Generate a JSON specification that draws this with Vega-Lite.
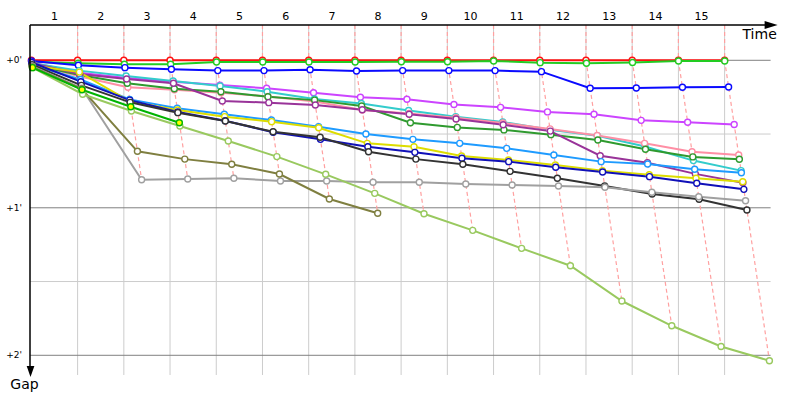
{
"$schema":"https://vega.github.io/schema/vega-lite/v6.json",
"width":770,"height":375,
"padding":{"left":30,"top":25,"right":0,"bottom":0},
"autosize":{"type":"none"},
"background":"white",
"config":{"view":{"stroke":null},"font":"DejaVu Sans"},
"datasets":{"cars":[
{"c":"red","l":0,"g":0,"t":0},{"c":"red","l":1,"g":0,"t":1},{"c":"red","l":2,"g":0,"t":2},{"c":"red","l":3,"g":0,"t":3},{"c":"red","l":4,"g":0,"t":4},{"c":"red","l":5,"g":0,"t":5},{"c":"red","l":6,"g":0,"t":6},{"c":"red","l":7,"g":0,"t":7},{"c":"red","l":8,"g":0,"t":8},{"c":"red","l":9,"g":0,"t":9},{"c":"red","l":10,"g":0,"t":10},{"c":"red","l":11,"g":0,"t":11},{"c":"red","l":12,"g":0,"t":12},{"c":"red","l":13,"g":0,"t":13},{"c":"red","l":14,"g":0,"t":14},{"c":"red","l":15,"g":0,"t":15},
{"c":"green","l":0,"g":0.01,"t":0.005},{"c":"green","l":1,"g":0.02,"t":1.010},{"c":"green","l":2,"g":0.027,"t":2.013},{"c":"green","l":3,"g":0.027,"t":3.013},{"c":"green","l":4,"g":0.012,"t":4.006},{"c":"green","l":5,"g":0.012,"t":5.006},{"c":"green","l":6,"g":0.012,"t":6.006},{"c":"green","l":7,"g":0.012,"t":7.006},{"c":"green","l":8,"g":0.01,"t":8.005},{"c":"green","l":9,"g":0.01,"t":9.005},{"c":"green","l":10,"g":0.005,"t":10.002},{"c":"green","l":11,"g":0.016,"t":11.008},{"c":"green","l":12,"g":0.02,"t":12.010},{"c":"green","l":13,"g":0.015,"t":13.007},{"c":"green","l":14,"g":0.005,"t":14.002},{"c":"green","l":15,"g":0.005,"t":15.002},
{"c":"blue","l":0,"g":0.005,"t":0.002},{"c":"blue","l":1,"g":0.034,"t":1.016},{"c":"blue","l":2,"g":0.05,"t":2.024},{"c":"blue","l":3,"g":0.061,"t":3.029},{"c":"blue","l":4,"g":0.07,"t":4.033},{"c":"blue","l":5,"g":0.07,"t":5.033},{"c":"blue","l":6,"g":0.064,"t":6.030},{"c":"blue","l":7,"g":0.073,"t":7.035},{"c":"blue","l":8,"g":0.07,"t":8.033},{"c":"blue","l":9,"g":0.07,"t":9.033},{"c":"blue","l":10,"g":0.07,"t":10.033},{"c":"blue","l":11,"g":0.077,"t":11.037},{"c":"blue","l":12,"g":0.19,"t":12.090},{"c":"blue","l":13,"g":0.188,"t":13.089},{"c":"blue","l":14,"g":0.183,"t":14.087},{"c":"blue","l":15,"g":0.181,"t":15.086},
{"c":"violet","l":0,"g":0.015,"t":0.007},{"c":"violet","l":1,"g":0.085,"t":1.040},{"c":"violet","l":2,"g":0.12,"t":2.057},{"c":"violet","l":3,"g":0.145,"t":3.069},{"c":"violet","l":4,"g":0.168,"t":4.080},{"c":"violet","l":5,"g":0.19,"t":5.090},{"c":"violet","l":6,"g":0.22,"t":6.105},{"c":"violet","l":7,"g":0.251,"t":7.119},{"c":"violet","l":8,"g":0.264,"t":8.126},{"c":"violet","l":9,"g":0.3,"t":9.143},{"c":"violet","l":10,"g":0.319,"t":10.152},{"c":"violet","l":11,"g":0.35,"t":11.167},{"c":"violet","l":12,"g":0.366,"t":12.174},{"c":"violet","l":13,"g":0.407,"t":13.194},{"c":"violet","l":14,"g":0.42,"t":14.200},{"c":"violet","l":15,"g":0.435,"t":15.207},
{"c":"cyan","l":0,"g":0.02,"t":0.010},{"c":"cyan","l":1,"g":0.07,"t":1.033},{"c":"cyan","l":2,"g":0.106,"t":2.050},{"c":"cyan","l":3,"g":0.14,"t":3.067},{"c":"cyan","l":4,"g":0.174,"t":4.083},{"c":"cyan","l":5,"g":0.213,"t":5.101},{"c":"cyan","l":6,"g":0.262,"t":6.125},{"c":"cyan","l":7,"g":0.293,"t":7.139},{"c":"cyan","l":8,"g":0.34,"t":8.162},{"c":"cyan","l":9,"g":0.382,"t":9.182},{"c":"cyan","l":10,"g":0.418,"t":10.199},{"c":"cyan","l":11,"g":0.471,"t":11.224},{"c":"cyan","l":12,"g":0.512,"t":12.244},{"c":"cyan","l":13,"g":0.585,"t":13.278},{"c":"cyan","l":14,"g":0.68,"t":14.324},{"c":"cyan","l":15,"g":0.748,"t":15.356},
{"c":"pink","l":0,"g":0.025,"t":0.012},{"c":"pink","l":1,"g":0.11,"t":1.052},{"c":"pink","l":2,"g":0.183,"t":2.087},{"c":"pink","l":3,"g":0.2,"t":3.095},{"c":"pink","l":4,"g":0.22,"t":4.105},{"c":"pink","l":5,"g":0.245,"t":5.117},{"c":"pink","l":6,"g":0.28,"t":6.133},{"c":"pink","l":7,"g":0.337,"t":7.160},{"c":"pink","l":8,"g":0.36,"t":8.171},{"c":"pink","l":9,"g":0.39,"t":9.186},{"c":"pink","l":10,"g":0.425,"t":10.202},{"c":"pink","l":11,"g":0.465,"t":11.221},{"c":"pink","l":12,"g":0.51,"t":12.243},{"c":"pink","l":13,"g":0.563,"t":13.268},{"c":"pink","l":14,"g":0.62,"t":14.295},{"c":"pink","l":15,"g":0.642,"t":15.305},
{"c":"dkgreen","l":0,"g":0.03,"t":0.014},{"c":"dkgreen","l":1,"g":0.1,"t":1.048},{"c":"dkgreen","l":2,"g":0.156,"t":2.074},{"c":"dkgreen","l":3,"g":0.193,"t":3.092},{"c":"dkgreen","l":4,"g":0.213,"t":4.101},{"c":"dkgreen","l":5,"g":0.247,"t":5.118},{"c":"dkgreen","l":6,"g":0.27,"t":6.128},{"c":"dkgreen","l":7,"g":0.31,"t":7.147},{"c":"dkgreen","l":8,"g":0.423,"t":8.201},{"c":"dkgreen","l":9,"g":0.455,"t":9.216},{"c":"dkgreen","l":10,"g":0.472,"t":10.225},{"c":"dkgreen","l":11,"g":0.504,"t":11.240},{"c":"dkgreen","l":12,"g":0.54,"t":12.257},{"c":"dkgreen","l":13,"g":0.603,"t":13.287},{"c":"dkgreen","l":14,"g":0.655,"t":14.312},{"c":"dkgreen","l":15,"g":0.671,"t":15.319},
{"c":"purple","l":0,"g":0.02,"t":0.010},{"c":"purple","l":1,"g":0.093,"t":1.044},{"c":"purple","l":2,"g":0.127,"t":2.060},{"c":"purple","l":3,"g":0.156,"t":3.074},{"c":"purple","l":4,"g":0.276,"t":4.131},{"c":"purple","l":5,"g":0.287,"t":5.137},{"c":"purple","l":6,"g":0.303,"t":6.144},{"c":"purple","l":7,"g":0.335,"t":7.159},{"c":"purple","l":8,"g":0.366,"t":8.174},{"c":"purple","l":9,"g":0.398,"t":9.189},{"c":"purple","l":10,"g":0.437,"t":10.208},{"c":"purple","l":11,"g":0.48,"t":11.228},{"c":"purple","l":12,"g":0.647,"t":12.308},{"c":"purple","l":13,"g":0.694,"t":13.330},{"c":"purple","l":14,"g":0.77,"t":14.366},{"c":"purple","l":15,"g":0.83,"t":15.395},
{"c":"ltblue","l":0,"g":0.03,"t":0.014},{"c":"ltblue","l":1,"g":0.13,"t":1.062},{"c":"ltblue","l":2,"g":0.265,"t":2.126},{"c":"ltblue","l":3,"g":0.325,"t":3.155},{"c":"ltblue","l":4,"g":0.366,"t":4.174},{"c":"ltblue","l":5,"g":0.405,"t":5.193},{"c":"ltblue","l":6,"g":0.45,"t":6.214},{"c":"ltblue","l":7,"g":0.5,"t":7.238},{"c":"ltblue","l":8,"g":0.536,"t":8.255},{"c":"ltblue","l":9,"g":0.563,"t":9.268},{"c":"ltblue","l":10,"g":0.597,"t":10.284},{"c":"ltblue","l":11,"g":0.642,"t":11.305},{"c":"ltblue","l":12,"g":0.687,"t":12.327},{"c":"ltblue","l":13,"g":0.703,"t":13.334},{"c":"ltblue","l":14,"g":0.739,"t":14.352},{"c":"ltblue","l":15,"g":0.762,"t":15.363},
{"c":"yellow","l":0,"g":0.035,"t":0.017},{"c":"yellow","l":1,"g":0.08,"t":1.038},{"c":"yellow","l":2,"g":0.28,"t":2.133},{"c":"yellow","l":3,"g":0.337,"t":3.160},{"c":"yellow","l":4,"g":0.382,"t":4.182},{"c":"yellow","l":5,"g":0.416,"t":5.198},{"c":"yellow","l":6,"g":0.457,"t":6.217},{"c":"yellow","l":7,"g":0.563,"t":7.268},{"c":"yellow","l":8,"g":0.586,"t":8.279},{"c":"yellow","l":9,"g":0.649,"t":9.309},{"c":"yellow","l":10,"g":0.676,"t":10.322},{"c":"yellow","l":11,"g":0.71,"t":11.338},{"c":"yellow","l":12,"g":0.748,"t":12.356},{"c":"yellow","l":13,"g":0.776,"t":13.369},{"c":"yellow","l":14,"g":0.8,"t":14.381},{"c":"yellow","l":15,"g":0.823,"t":15.392},
{"c":"navy","l":0,"g":0.015,"t":0.007},{"c":"navy","l":1,"g":0.145,"t":1.069},{"c":"navy","l":2,"g":0.27,"t":2.128},{"c":"navy","l":3,"g":0.35,"t":3.167},{"c":"navy","l":4,"g":0.41,"t":4.195},{"c":"navy","l":5,"g":0.488,"t":5.232},{"c":"navy","l":6,"g":0.536,"t":6.255},{"c":"navy","l":7,"g":0.586,"t":7.279},{"c":"navy","l":8,"g":0.624,"t":8.297},{"c":"navy","l":9,"g":0.664,"t":9.316},{"c":"navy","l":10,"g":0.687,"t":10.327},{"c":"navy","l":11,"g":0.725,"t":11.345},{"c":"navy","l":12,"g":0.757,"t":12.360},{"c":"navy","l":13,"g":0.789,"t":13.375},{"c":"navy","l":14,"g":0.834,"t":14.397},{"c":"navy","l":15,"g":0.875,"t":15.416},
{"c":"black","l":0,"g":0.03,"t":0.014},{"c":"black","l":1,"g":0.17,"t":1.081},{"c":"black","l":2,"g":0.285,"t":2.136},{"c":"black","l":3,"g":0.355,"t":3.169},{"c":"black","l":4,"g":0.412,"t":4.196},{"c":"black","l":5,"g":0.484,"t":5.230},{"c":"black","l":6,"g":0.522,"t":6.248},{"c":"black","l":7,"g":0.62,"t":7.295},{"c":"black","l":8,"g":0.67,"t":8.319},{"c":"black","l":9,"g":0.705,"t":9.335},{"c":"black","l":10,"g":0.753,"t":10.358},{"c":"black","l":11,"g":0.8,"t":11.381},{"c":"black","l":12,"g":0.852,"t":12.405},{"c":"black","l":13,"g":0.906,"t":13.431},{"c":"black","l":14,"g":0.942,"t":14.448},{"c":"black","l":15,"g":1.015,"t":15.483},
{"c":"gray","l":0,"g":0.04,"t":0.019},{"c":"gray","l":1,"g":0.19,"t":1.090},{"c":"gray","l":2,"g":0.81,"t":2.385},{"c":"gray","l":3,"g":0.805,"t":3.383},{"c":"gray","l":4,"g":0.8,"t":4.381},{"c":"gray","l":5,"g":0.818,"t":5.389},{"c":"gray","l":6,"g":0.818,"t":6.389},{"c":"gray","l":7,"g":0.827,"t":7.393},{"c":"gray","l":8,"g":0.827,"t":8.393},{"c":"gray","l":9,"g":0.839,"t":9.399},{"c":"gray","l":10,"g":0.845,"t":10.402},{"c":"gray","l":11,"g":0.852,"t":11.405},{"c":"gray","l":12,"g":0.861,"t":12.410},{"c":"gray","l":13,"g":0.895,"t":13.426},{"c":"gray","l":14,"g":0.925,"t":14.440},{"c":"gray","l":15,"g":0.952,"t":15.453},
{"c":"olive","l":0,"g":0.045,"t":0.021},{"c":"olive","l":1,"g":0.195,"t":1.093},{"c":"olive","l":2,"g":0.617,"t":2.294},{"c":"olive","l":3,"g":0.67,"t":3.319},{"c":"olive","l":4,"g":0.705,"t":4.335},{"c":"olive","l":5,"g":0.771,"t":5.367},{"c":"olive","l":6,"g":0.94,"t":6.447},{"c":"olive","l":7,"g":1.037,"t":7.493},
{"c":"ltgreen","l":0,"g":0.05,"t":0.024},{"c":"ltgreen","l":1,"g":0.23,"t":1.109},{"c":"ltgreen","l":2,"g":0.344,"t":2.164},{"c":"ltgreen","l":3,"g":0.445,"t":3.212},{"c":"ltgreen","l":4,"g":0.547,"t":4.260},{"c":"ltgreen","l":5,"g":0.653,"t":5.311},{"c":"ltgreen","l":6,"g":0.773,"t":6.368},{"c":"ltgreen","l":7,"g":0.902,"t":7.429},{"c":"ltgreen","l":8,"g":1.04,"t":8.495},{"c":"ltgreen","l":9,"g":1.153,"t":9.549},{"c":"ltgreen","l":10,"g":1.275,"t":10.607},{"c":"ltgreen","l":11,"g":1.393,"t":11.663},{"c":"ltgreen","l":12,"g":1.632,"t":12.777},{"c":"ltgreen","l":13,"g":1.8,"t":13.856},{"c":"ltgreen","l":14,"g":1.94,"t":14.923},{"c":"ltgreen","l":15,"g":2.037,"t":15.969},
{"c":"green2","l":0,"g":0.05,"t":0.024},{"c":"green2","l":1,"g":0.2,"t":1.095},{"c":"green2","l":2,"g":0.315,"t":2.150},{"c":"green2","l":3,"g":0.423,"t":3.201}
]},
"layer":[
{"data":{"values":[{"l":1},{"l":2},{"l":3},{"l":4},{"l":5},{"l":6},{"l":7},{"l":8},{"l":9},{"l":10},{"l":11},{"l":12},{"l":13},{"l":14},{"l":15}]},
 "mark":{"type":"rule","color":"#cccccc","strokeWidth":1},
 "encoding":{
  "x":{"field":"l","type":"quantitative","scale":{"domain":[-0.0303,16.631],"nice":false,"zero":false},"axis":null},
  "y":{"datum":-0.2393,"type":"quantitative","scale":{"domain":[-0.2393,2.3031],"reverse":true,"nice":false,"zero":false},"axis":null},
  "y2":{"datum":2.1336}}},
{"data":{"values":[{"g":0.5},{"g":1.5}]},
 "mark":{"type":"rule","color":"#cccccc","strokeWidth":1},
 "encoding":{"y":{"field":"g","type":"quantitative","scale":{"domain":[-0.2393,2.3031],"reverse":true,"nice":false,"zero":false},"axis":null},
  "x":{"datum":-0.0303,"type":"quantitative","scale":{"domain":[-0.0303,16.631],"nice":false,"zero":false},"axis":null},"x2":{"datum":15.995}}},
{"data":{"values":[{"g":0},{"g":1},{"g":2}]},
 "mark":{"type":"rule","color":"#808080","strokeWidth":1},
 "encoding":{"y":{"field":"g","type":"quantitative","scale":{"domain":[-0.2393,2.3031],"reverse":true,"nice":false,"zero":false},"axis":null},
  "x":{"datum":-0.0303,"type":"quantitative","scale":{"domain":[-0.0303,16.631],"nice":false,"zero":false},"axis":null},"x2":{"datum":15.995}}},
{"data":{"values":[{"l":1},{"l":2},{"l":3},{"l":4},{"l":5},{"l":6},{"l":7},{"l":8},{"l":9},{"l":10},{"l":11},{"l":12},{"l":13},{"l":14},{"l":15}]},
 "mark":{"type":"rule","color":"#ffa0a0","strokeWidth":1.2,"strokeDash":[4,3]},
 "encoding":{"x":{"field":"l","type":"quantitative","scale":{"domain":[-0.0303,16.631],"nice":false,"zero":false},"axis":null},
  "y":{"datum":-0.2393,"type":"quantitative","scale":{"domain":[-0.2393,2.3031],"reverse":true,"nice":false,"zero":false},"axis":null},"y2":{"datum":0}}},
{"data":{"name":"cars"},
 "transform":[{"filter":"datum.l >= 1"}],
 "mark":{"type":"line","color":"#ffa0a0","strokeWidth":1.2,"strokeDash":[4,3]},
 "encoding":{"x":{"field":"t","type":"quantitative","scale":{"domain":[-0.0303,16.631],"nice":false,"zero":false},"axis":null},
  "y":{"field":"g","type":"quantitative","scale":{"domain":[-0.2393,2.3031],"reverse":true,"nice":false,"zero":false},"axis":null},
  "detail":{"field":"l","type":"nominal"},
  "order":{"field":"g","type":"quantitative"}}},
{"data":{"name":"cars"},
 "mark":{"type":"line","strokeWidth":2},
 "encoding":{"x":{"field":"t","type":"quantitative","scale":{"domain":[-0.0303,16.631],"nice":false,"zero":false},"axis":null},
  "y":{"field":"g","type":"quantitative","scale":{"domain":[-0.2393,2.3031],"reverse":true,"nice":false,"zero":false},"axis":null},
  "stroke":{"field":"c","type":"nominal","legend":null,"scale":{"domain":["ltgreen","olive","gray","black","navy","yellow","ltblue","purple","dkgreen","pink","cyan","violet","blue","green2","red","green"],"range":["#99c95f","#7f7f40","#a0a0a0","#333333","#1010b8","#dddd00","#1e9bff","#993399","#2f9a2f","#ff8fa5","#33cccc","#cc44ff","#0a0aff","#00b400","#ff1010","#22cc22"]}},
  "order":{"field":"l","type":"quantitative"}}},
{"data":{"name":"cars"},
 "mark":{"type":"point","shape":"circle","filled":true,"size":36,"strokeWidth":1.4,"opacity":1},
 "encoding":{"x":{"field":"t","type":"quantitative","scale":{"domain":[-0.0303,16.631],"nice":false,"zero":false},"axis":null},
  "y":{"field":"g","type":"quantitative","scale":{"domain":[-0.2393,2.3031],"reverse":true,"nice":false,"zero":false},"axis":null},
  "stroke":{"field":"c","type":"nominal","legend":null},
  "fill":{"field":"c","type":"nominal","legend":null,"scale":{"domain":["ltgreen","olive","gray","black","navy","yellow","ltblue","purple","dkgreen","pink","cyan","violet","blue","green2","red","green"],"range":["#ffffff","#ffffff","#ffffff","#ffffff","#ffffff","#ffffff","#ffffff","#ffffff","#ffffff","#ffffff","#ffffff","#ffffff","#ffffff","#ffff00","#ffffff","#ffffff"]}}}},
{"data":{"values":[{}]},
 "mark":{"type":"rule","color":"#000000","strokeWidth":1.5},
 "encoding":{"x":{"datum":-0.0303,"type":"quantitative","scale":{"domain":[-0.0303,16.631],"nice":false,"zero":false},"axis":null},"x2":{"datum":15.9},
  "y":{"datum":-0.2393,"type":"quantitative","scale":{"domain":[-0.2393,2.3031],"reverse":true,"nice":false,"zero":false},"axis":null}}},
{"data":{"values":[{}]},
 "mark":{"type":"rule","color":"#000000","strokeWidth":1.5},
 "encoding":{"x":{"datum":-0.0303,"type":"quantitative","scale":{"domain":[-0.0303,16.631],"nice":false,"zero":false},"axis":null},
  "y":{"datum":-0.2393,"type":"quantitative","scale":{"domain":[-0.2393,2.3031],"reverse":true,"nice":false,"zero":false},"axis":null},"y2":{"datum":2.08}}},
{"data":{"values":[{}]},
 "mark":{"type":"point","shape":"M-1,-0.6L1,0L-1,0.6Z","filled":true,"color":"#000000","size":169,"opacity":1},
 "encoding":{"x":{"datum":16.006,"type":"quantitative","scale":{"domain":[-0.0303,16.631],"nice":false,"zero":false},"axis":null},
  "y":{"datum":-0.2393,"type":"quantitative","scale":{"domain":[-0.2393,2.3031],"reverse":true,"nice":false,"zero":false},"axis":null}}},
{"data":{"values":[{}]},
 "mark":{"type":"point","shape":"M-0.7,-1L0.7,-1L0,1Z","filled":true,"color":"#000000","size":121,"opacity":1},
 "encoding":{"x":{"datum":-0.019,"type":"quantitative","scale":{"domain":[-0.0303,16.631],"nice":false,"zero":false},"axis":null},
  "y":{"datum":2.11,"type":"quantitative","scale":{"domain":[-0.2393,2.3031],"reverse":true,"nice":false,"zero":false},"axis":null}}},
{"data":{"values":[{"lap":1},{"lap":2},{"lap":3},{"lap":4},{"lap":5},{"lap":6},{"lap":7},{"lap":8},{"lap":9},{"lap":10},{"lap":11},{"lap":12},{"lap":13},{"lap":14},{"lap":15}]},
 "mark":{"type":"text","fontSize":11,"font":"DejaVu Sans","color":"#000000","align":"center","baseline":"middle","dx":-23},
 "encoding":{"x":{"field":"lap","type":"quantitative","scale":{"domain":[-0.0303,16.631],"nice":false,"zero":false},"axis":null},
  "y":{"datum":-0.2935,"type":"quantitative","scale":{"domain":[-0.2393,2.3031],"reverse":true,"nice":false,"zero":false},"axis":null},
  "text":{"field":"lap","type":"quantitative","format":"d"}}},
{"data":{"values":[{"g":0,"label":"+0'"},{"g":1,"label":"+1'"},{"g":2,"label":"+2'"}]},
 "mark":{"type":"text","fontSize":9,"font":"DejaVu Sans","color":"#000000","align":"right","baseline":"middle","dx":-8},
 "encoding":{"x":{"datum":-0.0303,"type":"quantitative","scale":{"domain":[-0.0303,16.631],"nice":false,"zero":false},"axis":null},
  "y":{"field":"g","type":"quantitative","scale":{"domain":[-0.2393,2.3031],"reverse":true,"nice":false,"zero":false},"axis":null},
  "text":{"field":"label","type":"nominal"}}},
{"data":{"values":[{}]},
 "mark":{"type":"text","fontSize":14,"font":"DejaVu Sans","color":"#000000","align":"center","baseline":"middle"},
 "encoding":{"x":{"datum":15.757,"type":"quantitative","scale":{"domain":[-0.0303,16.631],"nice":false,"zero":false},"axis":null},
  "y":{"datum":-0.1715,"type":"quantitative","scale":{"domain":[-0.2393,2.3031],"reverse":true,"nice":false,"zero":false},"axis":null},
  "text":{"value":"Time"}}},
{"data":{"values":[{}]},
 "mark":{"type":"text","fontSize":14,"font":"DejaVu Sans","color":"#000000","align":"center","baseline":"middle"},
 "encoding":{"x":{"datum":-0.149,"type":"quantitative","scale":{"domain":[-0.0303,16.631],"nice":false,"zero":false},"axis":null},
  "y":{"datum":2.2,"type":"quantitative","scale":{"domain":[-0.2393,2.3031],"reverse":true,"nice":false,"zero":false},"axis":null},
  "text":{"value":"Gap"}}}
]
}
